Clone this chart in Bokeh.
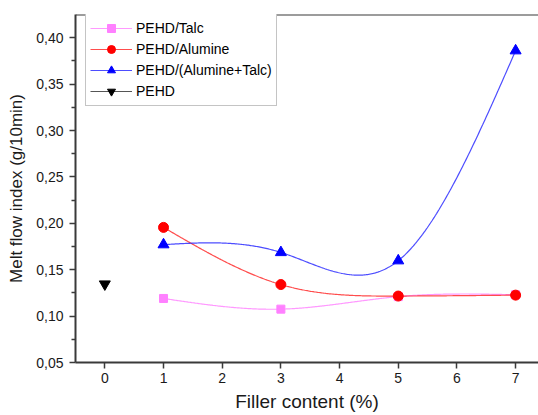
import numpy as np
from bokeh.plotting import figure
from bokeh.models import Range1d, FixedTicker, Legend, LegendItem, Span
from bokeh.embed import file_html
from bokeh.resources import INLINE

# ---- data ----
filler = [1, 3, 5, 7]
talc = [0.119, 0.1075, 0.121, 0.123]
alumine = [0.1956, 0.134, 0.1216, 0.1226]
blend = [0.177, 0.1686, 0.1597, 0.386]
pehd_x = [0]
pehd_y = [0.1345]

x_ticks = [0, 1, 2, 3, 4, 5, 6, 7]
x_tick_labels = ["0", "1", "2", "3", "4", "5", "6", "7"]
y_ticks = [0.05, 0.10, 0.15, 0.20, 0.25, 0.30, 0.35, 0.40]
y_tick_labels = ["0,05", "0,10", "0,15", "0,20", "0,25", "0,30", "0,35", "0,40"]

series_names = ["PEHD/Talc", "PEHD/Alumine", "PEHD/(Alumine+Talc)", "PEHD"]
x_title = "Filler content (%)"
y_title = "Melt flow index (g/10min)"


def natural_spline(x, y, n=300):
    x = np.asarray(x, float)
    y = np.asarray(y, float)
    k = len(x)
    h = np.diff(x)
    A = np.zeros((k, k))
    r = np.zeros(k)
    A[0, 0] = 1.0
    A[-1, -1] = 1.0
    for i in range(1, k - 1):
        A[i, i - 1] = h[i - 1]
        A[i, i] = 2 * (h[i - 1] + h[i])
        A[i, i + 1] = h[i]
        r[i] = 6 * ((y[i + 1] - y[i]) / h[i] - (y[i] - y[i - 1]) / h[i - 1])
    M = np.linalg.solve(A, r)
    xs = np.linspace(x[0], x[-1], n)
    idx = np.clip(np.searchsorted(x, xs) - 1, 0, k - 2)
    x0 = x[idx]
    x1 = x[idx + 1]
    hh = x1 - x0
    ys = (M[idx] * (x1 - xs) ** 3 / (6 * hh)
          + M[idx + 1] * (xs - x0) ** 3 / (6 * hh)
          + (y[idx] / hh - M[idx] * hh / 6) * (x1 - xs)
          + (y[idx + 1] / hh - M[idx + 1] * hh / 6) * (xs - x0))
    return xs, ys


FONT = "Liberation Sans"
AXIS_COLOR = "#3a3a3a"
FRAME_H = 348

p = figure(width=538, height=415,
           x_range=Range1d(-0.5, 7.39), y_range=Range1d(0.05, 0.425),
           output_backend="svg", toolbar_location=None,
           min_border_left=75, min_border_right=0,
           min_border_top=14, min_border_bottom=53)
p.outline_line_color = None
p.xgrid.visible = False
p.ygrid.visible = False
p.background_fill_color = "white"
p.border_fill_color = "white"

# ---- series ----
xs, ys = natural_spline(filler, talc)
l1 = p.line(xs, ys, line_color="#ff80ff", line_width=1.2, line_alpha=0.8)
xs, ys = natural_spline(filler, alumine)
l2 = p.line(xs, ys, line_color="#ff2020", line_width=1.2, line_alpha=0.8)
xs, ys = natural_spline(filler, blend)
l3 = p.line(xs, ys, line_color="#2020ff", line_width=1.2, line_alpha=0.8)
l4 = p.line(pehd_x, pehd_y, line_color="#555555", line_width=1.2)

s1 = p.scatter(filler, talc, marker="square", size=8, fill_color="#ff80ff", line_color="#ff80ff")
s2 = p.scatter(filler, alumine, marker="circle", size=10, fill_color="#ff0000", line_color="#ff0000")
s3 = p.scatter(filler, blend, marker="triangle", size=11, fill_color="#0000ff", line_color="#0000ff")
s4 = p.scatter(pehd_x, pehd_y, marker="inverted_triangle", size=11, fill_color="#000000", line_color="#000000")

# ---- axes ----
p.xaxis.ticker = FixedTicker(ticks=x_ticks, minor_ticks=[])
p.xaxis.major_label_overrides = {t: l for t, l in zip(x_ticks, x_tick_labels)}
y_minor = [(a + b) / 2 for a, b in zip(y_ticks[:-1], y_ticks[1:])]
p.yaxis.ticker = FixedTicker(ticks=y_ticks, minor_ticks=y_minor)
p.yaxis.major_label_overrides = {t: l for t, l in zip(y_ticks, y_tick_labels)}

p.xaxis.axis_label = x_title
p.yaxis.axis_label = y_title

for ax in (p.xaxis[0], p.yaxis[0]):
    ax.axis_line_color = AXIS_COLOR
    ax.axis_line_width = 2
    ax.major_tick_line_color = AXIS_COLOR
    ax.major_tick_line_width = 1.5
    ax.minor_tick_line_color = AXIS_COLOR
    ax.minor_tick_line_width = 1.5
    ax.major_tick_in = 0
    ax.major_tick_out = 6
    ax.minor_tick_in = 0
    ax.minor_tick_out = 4
    ax.major_label_text_font = FONT
    ax.major_label_text_font_size = "14px"
    ax.major_label_text_color = "#1a1a1a"
    ax.axis_label_text_font = FONT
    ax.axis_label_text_font_style = "normal"
    ax.axis_label_text_color = "#1a1a1a"

p.xaxis.major_label_standoff = 4
p.xaxis.axis_label_standoff = 5
p.xaxis.axis_label_text_font_size = "19px"
p.yaxis.major_label_standoff = 6
p.yaxis.axis_label_standoff = 7
p.yaxis.axis_label_text_font_size = "17px"

# top frame line
p.add_layout(Span(location=0.425, dimension="width", line_color=AXIS_COLOR, line_width=2))

# ---- legend ----
items = [
    LegendItem(label=series_names[0], renderers=[l1, s1]),
    LegendItem(label=series_names[1], renderers=[l2, s2]),
    LegendItem(label=series_names[2], renderers=[l3, s3]),
    LegendItem(label=series_names[3], renderers=[l4, s4]),
]
legend = Legend(items=items, location=(10, FRAME_H - 3 - 89), margin=0,
                padding=4, spacing=1, glyph_width=42, glyph_height=20,
                label_height=20, label_standoff=4,
                label_text_font=FONT, label_text_font_size="14px",
                label_text_color="#000000",
                border_line_color="#8a8a8a", border_line_width=1,
                background_fill_color="white", background_fill_alpha=1.0)
p.add_layout(legend)

open("out.html", "w").write(file_html(p, INLINE))
